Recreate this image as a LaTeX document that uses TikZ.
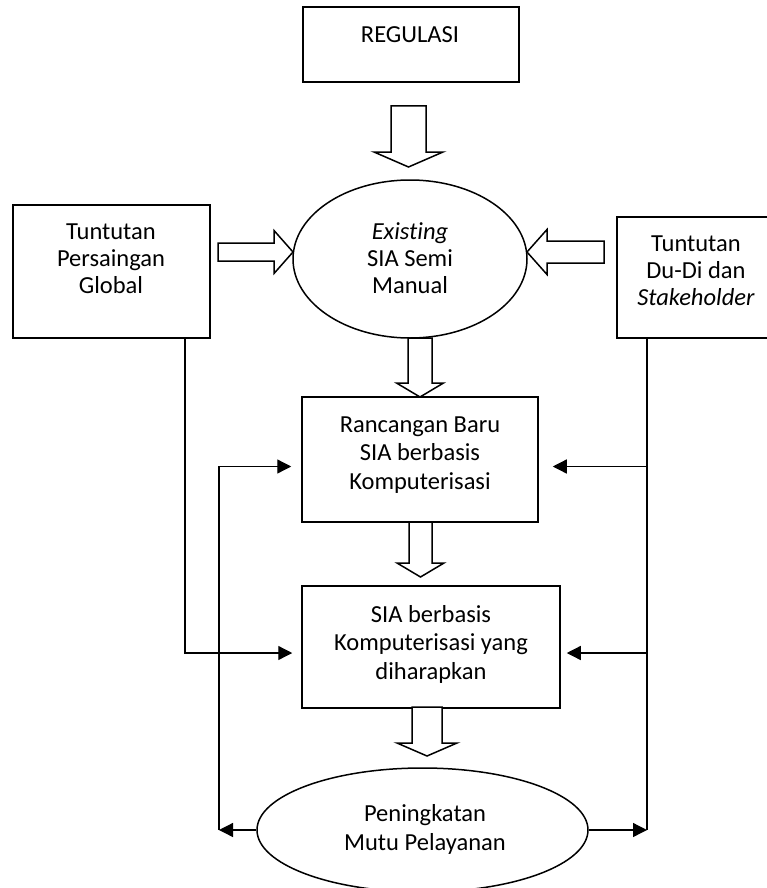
\documentclass[tikz,border=0pt]{standalone}
\usepackage{fontspec}
\setmainfont{Carlito}[Ligatures=NoCommon]
\usetikzlibrary{arrows.meta,shapes.geometric}

% vertical block arrow: {cx}{y top}{y head}{y tip}{half shaft}{half head}
\newcommand\vblock[6]{%
  \draw[blk] ({#1-#5},#2) -- ({#1+#5},#2) -- ({#1+#5},#3) -- ({#1+#6},#3)
    -- (#1,#4) -- ({#1-#6},#3) -- ({#1-#5},#3) -- cycle;}
% horizontal block arrow: {cy}{x tail}{x head}{x tip}{half shaft}{half head}
\newcommand\hblock[6]{%
  \draw[blk] (#2,{#1-#5}) -- (#3,{#1-#5}) -- (#3,{#1-#6}) -- (#4,#1)
    -- (#3,{#1+#6}) -- (#3,{#1+#5}) -- (#2,{#1+#5}) -- cycle;}

\begin{document}
\begin{tikzpicture}[x=1pt,y=-1pt,
  box/.style={draw,line width=1.5pt,inner sep=0pt,rectangle},
  oval/.style={draw,line width=1.5pt,inner sep=0pt,ellipse},
  txt/.style={align=center,inner sep=0pt,font=\fontsize{24.5}{27}\selectfont},
  wide/.style={font=\fontsize{24.5}{28.5}\selectfont},
  conn/.style={line width=1.3pt},
  fb/.style={conn,-{Triangle[length=14pt,width=14pt]}},
  blk/.style={draw,line width=1.5pt,fill=white,line join=miter}]

\useasboundingbox (0,0) rectangle (766,888);

% boxes and ovals
\node[box,minimum width=216pt,minimum height=75pt] (reg) at (411,44.5) {};
\node[txt] (regt) at (410,35) {REGULASI};

\node[box,minimum width=197pt,minimum height=133pt] (pers) at (111.5,271.5) {};
\node[txt] (perst) at (111,259) {Tuntutan\\Persaingan\\Global};

\node[box,minimum width=153pt,minimum height=121pt] (stake) at (693.5,277.5) {};
\node[txt] (staket) at (696,271) {Tuntutan\\Du-Di dan\\\textit{Stakeholder}};

\node[oval,minimum width=234pt,minimum height=158pt] (ell1) at (410,259) {};
\node[txt] (ell1t) at (410,258) {\textit{Existing}\\SIA Semi\\Manual};

\node[box,minimum width=236pt,minimum height=125pt] (ran) at (420,459.5) {};
\node[txt,wide] (rant) at (420,455) {Rancangan Baru\\SIA berbasis\\Komputerisasi};

\node[box,minimum width=258pt,minimum height=122pt] (sia) at (431,647) {};
\node[txt,wide] (siat) at (431,644) {SIA berbasis\\Komputerisasi yang\\diharapkan};

\node[oval,minimum width=331pt,minimum height=124pt] (ell2) at (422.5,830) {};
\node[txt,font=\fontsize{24.5}{29}\selectfont] (ell2t) at (425,829) {Peningkatan\\Mutu Pelayanan};

% block arrows
\vblock{408.5}{106}{152}{167}{17.5}{34.5}
\vblock{420}{338}{383}{397}{12}{23.5}
\vblock{420.5}{522}{563}{577}{11.5}{23.5}
\vblock{427}{707}{743}{756}{15}{30}
\hblock{252}{218}{274}{293}{9}{21.5}
\hblock{252}{604}{547}{527}{11}{22.5}

% feedback lines
\coordinate (xl) at (185,0);
\coordinate (xf) at (219,0);
\coordinate (xr) at (647,0);
\coordinate (ya) at (0,466.5);
\coordinate (yb) at (0,653);

\draw[fb,shorten >=9pt] (pers.south -| xl) |- (sia.west |- yb);
\draw[fb] (ell2.west) -- (xf |- ell2.west);
\draw[fb,shorten >=10pt] (xf |- ell2.west) |- (ran.west |- ya);
\draw[conn] (stake.south -| xr) -- (xr |- ell2.east);
\draw[fb,shorten >=14pt] (xr |- ya) -- (ran.east |- ya);
\draw[fb,shorten >=6pt] (xr |- yb) -- (sia.east |- yb);
\draw[fb] (ell2.east) -- (xr |- ell2.east);
\end{tikzpicture}
\end{document}
